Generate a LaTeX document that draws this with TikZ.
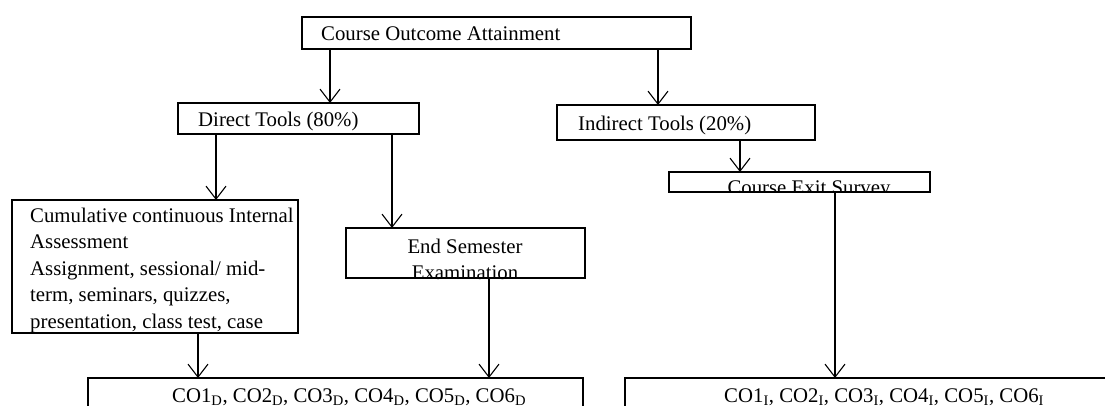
\documentclass[tikz,border=0pt]{standalone}
\usepackage{fontspec}
\setmainfont{Liberation Serif}
\usetikzlibrary{arrows.meta}
\begin{document}
\begin{tikzpicture}[x=1pt,y=-1pt,
  box/.style={draw, line width=1.2pt, inner sep=0pt, outer sep=0pt, anchor=north west},
  txt/.style={inner sep=0pt, font=\fontsize{20.8pt}{26.5pt}\selectfont},
  arr/.style={line width=1.1pt, -{Straight Barb[length=13pt,width=20pt]}}]
\useasboundingbox (0,0) rectangle (1105,405);
\clip (0,0) rectangle (1105,405);
\fill[white] (0,0) rectangle (1105,405);
% boxes
\node[box, minimum width=389pt, minimum height=32pt] (top) at (302,17) {};
\node[box, minimum width=241pt, minimum height=31pt] (direct) at (178,103) {};
\node[box, minimum width=258pt, minimum height=35pt] (indirect) at (557,105) {};
\node[box, minimum width=286pt, minimum height=133pt] (cumul) at (12,200) {};
\node[box, minimum width=239pt, minimum height=50pt] (endsem) at (346,228) {};
\node[box, minimum width=261pt, minimum height=20pt] (exit) at (669,172) {};
\node[box, minimum width=495pt, minimum height=60pt] (cod) at (88,378) {};
\node[box, minimum width=500pt, minimum height=60pt] (coi) at (625,378) {};
% texts
\node[txt, anchor=base west] (toptext) at (321,40) {Course Outcome Attainment};
\node[txt, anchor=base west] (directtext) at (198,126) {Direct Tools (80\%)};
\node[txt, anchor=base west] (indirecttext) at (578,130) {Indirect Tools (20\%)};
\node[txt, anchor=north west, align=left] (cumultext) at (30,207.5)
  {Cumulative continuous Internal\\Assessment\\Assignment, sessional/ mid-\\term, seminars, quizzes,\\presentation, class test, case};
\node[txt, anchor=north, align=center] (endsemtext) at (465,238.5) {End Semester\\Examination};
\begin{scope}
  \clip (exit.north west) rectangle (exit.south east);
  \node[txt, anchor=base] (exittext) at (809,194.5) {Course Exit Survey};
\end{scope}
\node[txt, anchor=base west] (codtext) at (172,402)
  {CO1\textsubscript{D}, CO2\textsubscript{D}, CO3\textsubscript{D}, CO4\textsubscript{D}, CO5\textsubscript{D}, CO6\textsubscript{D}};
\node[txt, anchor=base west] (coitext) at (724,402)
  {CO1\textsubscript{I}, CO2\textsubscript{I}, CO3\textsubscript{I}, CO4\textsubscript{I}, CO5\textsubscript{I}, CO6\textsubscript{I}};
% connectors
\draw[arr] (330,0 |- top.south) -- (330,0 |- direct.north);
\draw[arr] (658,0 |- top.south) -- (658,0 |- indirect.north);
\draw[arr] (216,0 |- direct.south) -- (216,0 |- cumul.north);
\draw[arr] (392,0 |- direct.south) -- (392,0 |- endsem.north);
\draw[arr] (740,0 |- indirect.south) -- (740,0 |- exit.north);
\draw[arr] (198,0 |- cumul.south) -- (198,0 |- cod.north);
\draw[arr] (489,0 |- endsem.south) -- (489,0 |- cod.north);
\draw[arr] (835,0 |- exit.south) -- (835,0 |- coi.north);
\end{tikzpicture}
\end{document}
